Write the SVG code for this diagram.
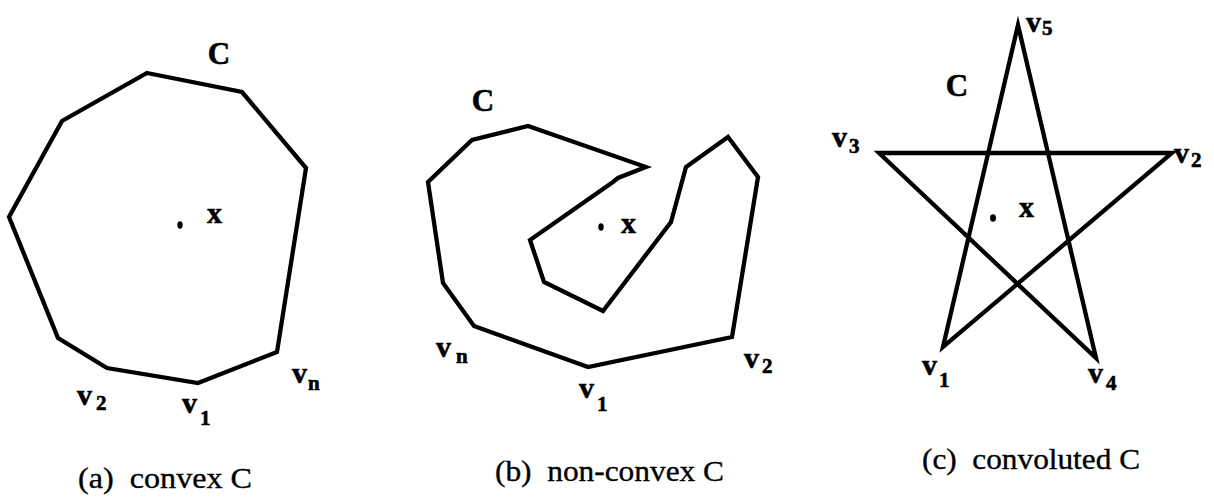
<svg xmlns="http://www.w3.org/2000/svg" width="1214" height="497" viewBox="0 0 1214 497">
<style>
.shape{fill:none;stroke:#000;stroke-width:4.3;stroke-linejoin:miter;stroke-miterlimit:10}
.lbl{font-family:"Liberation Serif","Times New Roman",serif;font-weight:bold;fill:#000;stroke:#000;stroke-width:0.6}
.big{font-size:31px}
.v{font-size:30px}
.sub{font-size:21px}
.cap{font-family:"Liberation Serif","Times New Roman",serif;font-size:29px;fill:#000;stroke:#000;stroke-width:0.35;white-space:pre}
</style>
<rect width="1214" height="497" fill="#fff"/>
<g id="panel-a">
<polygon class="shape" points="147,73 242,92 306,168 277,352 198,383 107,368 58,338 9,217 62,121"/>
<ellipse cx="180" cy="225" rx="2.7" ry="3.7"/>
<text class="lbl big" x="219" y="64" text-anchor="middle">C</text>
<text class="lbl v" x="207" y="223">x</text>
<text class="lbl v" x="292" y="383">v</text><text class="lbl sub" x="308" y="390">n</text>
<text class="lbl v" x="77" y="405">v</text><text class="lbl sub" x="96" y="410">2</text>
<text class="lbl v" x="182" y="413">v</text><text class="lbl sub" x="200" y="425">1</text>
<text class="cap" x="78" y="488" textLength="174" lengthAdjust="spacingAndGlyphs">(a)  convex C</text>
</g>
<g id="panel-b">
<polygon class="shape" points="646,167 618,178 613,182 530,240 544,282 603,311 671,222 686,167 728,137 758,177 732,337 588,367 474,326 443,283 428,182 472,140 528,126"/>
<ellipse cx="601" cy="227" rx="2.7" ry="3.7"/>
<text class="lbl big" x="483" y="111" text-anchor="middle">C</text>
<text class="lbl v" x="621" y="233">x</text>
<text class="lbl v" x="436" y="357">v</text><text class="lbl sub" x="456" y="363">n</text>
<text class="lbl v" x="579" y="398">v</text><text class="lbl sub" x="597" y="411">1</text>
<text class="lbl v" x="744" y="368">v</text><text class="lbl sub" x="762" y="373">2</text>
<text class="cap" x="495" y="481" textLength="229" lengthAdjust="spacingAndGlyphs">(b)  non-convex C</text>
</g>
<g id="panel-c">
<path class="shape" d="M1018,25 L943,347 L1172,153 L879,153 L1096,358 Z"/>
<ellipse cx="993" cy="218" rx="3" ry="3.7"/>
<text class="lbl big" x="957" y="96" text-anchor="middle">C</text>
<text class="lbl v" x="1019" y="217">x</text>
<text class="lbl v" x="1026" y="32">v</text><text class="lbl sub" x="1042" y="35">5</text>
<text class="lbl v" x="832" y="147">v</text><text class="lbl sub" x="849" y="153">3</text>
<text class="lbl v" x="1174" y="163">v</text><text class="lbl sub" x="1191" y="167">2</text>
<text class="lbl v" x="922" y="375">v</text><text class="lbl sub" x="939" y="387">1</text>
<text class="lbl v" x="1088" y="383">v</text><text class="lbl sub" x="1106" y="390">4</text>
<text class="cap" x="922" y="469" textLength="218" lengthAdjust="spacingAndGlyphs">(c)  convoluted C</text>
</g>
<g id="connectors"></g>
</svg>
